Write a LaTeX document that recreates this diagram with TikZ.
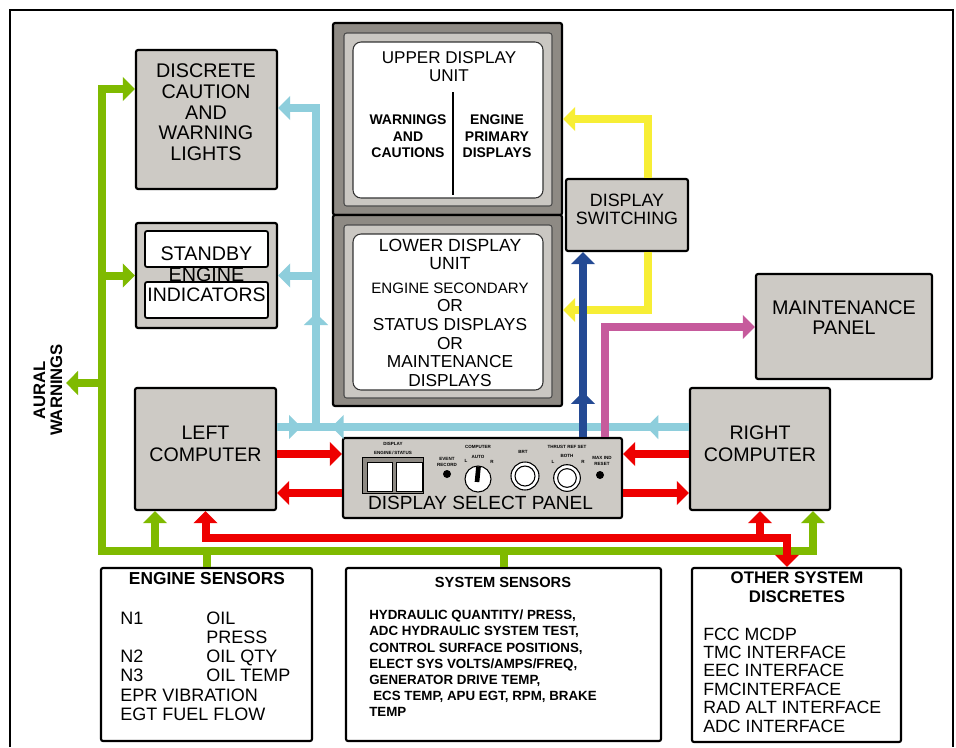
\documentclass[tikz,border=0pt]{standalone}
\usepackage{fontspec}
\setmainfont{Liberation Sans}
\usetikzlibrary{arrows.meta,decorations.markings}

\definecolor{boxgray}{HTML}{CDCAC5}
\definecolor{dispgray}{HTML}{8E8A84}
\definecolor{framegray}{HTML}{CAC7C2}
\definecolor{busgreen}{HTML}{7FBA00}
\definecolor{busred}{HTML}{EE0000}
\definecolor{buslblue}{HTML}{8ECEDC}
\definecolor{busdblue}{HTML}{244A94}
\definecolor{busyellow}{HTML}{F7EE35}
\definecolor{busmagenta}{HTML}{C65A9C}

\newcommand{\fsz}[2]{\fontsize{#1}{#2}\selectfont}

\begin{document}
\begin{tikzpicture}[x=0.75pt, y=-0.75pt,
    tipa/.tip={Triangle[length=9pt,width=17.5pt]},
    >=tipa,
    box/.style={draw, line width=1.6pt, fill=boxgray, rounded corners=1.5pt, inner sep=0pt},
    sensorbox/.style={draw, line width=1.6pt, fill=white, rounded corners=1.5pt, inner sep=0pt},
    unitbox/.style={draw, line width=1.6pt, fill=dispgray, rounded corners=1.5pt, inner sep=0pt},
    unitframe/.style={draw=black!70, line width=0.8pt, fill=framegray, rounded corners=2pt, inner sep=0pt},
    unitscreen/.style={draw=black!80, line width=0.8pt, fill=white, rounded corners=6pt, inner sep=0pt},
    lbl/.style={align=center, inner sep=0pt, font=\fsz{14.8}{15.5}},
    paneltext/.style={align=center, inner sep=0pt, font=\fsz{3.4}{3.9}\bfseries},
    wire/.style={line width=6pt},
    gline/.style={wire, color=busgreen},
    rline/.style={wire, color=busred},
    bline/.style={wire, color=buslblue},
    dbline/.style={wire, color=busdblue},
    yline/.style={wire, color=busyellow},
    mline/.style={wire, color=busmagenta},
    midtip/.style={postaction={decorate, decoration={markings, mark=at position #1 with {\arrow{tipa}}}}},
    midtips/.style 2 args={postaction={decorate, decoration={markings,
        mark=at position #1 with {\arrow{tipa}}, mark=at position #2 with {\arrow{tipa}}}}}
]
    \useasboundingbox (0,0) rectangle (956,747);
    \fill[white] (0,0) rectangle (956,747);
    \draw[line width=2.2pt] (10,747) -- (10,10) -- (953,10) -- (953,747);

    % boxes
    \node[box, minimum width=105.75pt, minimum height=104.25pt] (dcwl) at (206.5,119.5) {};
    \node[lbl] (dcwltext) at (206,112.5) {DISCRETE\\CAUTION\\AND\\WARNING\\LIGHTS};

    \node[box, minimum width=105.75pt, minimum height=78.75pt] (sbei) at (206.5,275.5) {};
    \node[lbl] (sbeimid) at (206.5,275) {ENGINE};
    \node[sensorbox, line width=1.3pt, minimum width=92.25pt, minimum height=27pt] (sbeitop) at (206.5,249) {};
    \node[sensorbox, line width=1.3pt, minimum width=92.25pt, minimum height=27pt] (sbeibot) at (206.5,300) {};
    \node[lbl] (sbeitoptext) at (206.5,254) {STANDBY};
    \node[lbl, font=\fsz{14.6}{15}] (sbeibottext) at (206.5,295) {INDICATORS};

    \node[box, minimum width=105.75pt, minimum height=91.5pt] (lc) at (205.5,449) {};
    \node[lbl, font=\fsz{14.7}{16.5}] (lctext) at (205.5,444) {LEFT\\COMPUTER};

    \node[box, minimum width=105pt, minimum height=91.5pt] (rc) at (760,449) {};
    \node[lbl, font=\fsz{14.7}{16.5}] (rctext) at (760,444) {RIGHT\\COMPUTER};

    \node[box, minimum width=91.5pt, minimum height=54pt] (dsw) at (627,215) {};
    \node[lbl, font=\fsz{13.4}{13.5}] (dswtext) at (627,209) {DISPLAY\\SWITCHING};

    \node[box, minimum width=132pt, minimum height=78.75pt] (mp) at (844,326.5) {};
    \node[lbl, font=\fsz{14.8}{15}] (mptext) at (844,318) {MAINTENANCE\\PANEL};

    % display units
    \node[unitbox, minimum width=171.75pt, minimum height=144pt] (udu) at (447.5,119) {};
    \node[unitframe, minimum width=156pt, minimum height=129.75pt] (uduframe) at (448,119.5) {};
    \node[unitscreen, minimum width=142.5pt, minimum height=117pt] (uduscreen) at (448,120) {};
    \node[lbl, font=\fsz{12.8}{13.5}] (udutitle) at (449,67) {UPPER DISPLAY\\UNIT};
    \draw[line width=0.8pt] (453,92) -- (453,195);
    \node[lbl, font=\fsz{10.5}{12.4}\bfseries] (uduleft) at (408,136.5) {WARNINGS\\AND\\CAUTIONS};
    \node[lbl, font=\fsz{10.5}{12.4}\bfseries] (uduright) at (497,136.5) {ENGINE\\PRIMARY\\DISPLAYS};

    \node[unitbox, minimum width=171.75pt, minimum height=143.25pt] (ldu) at (447.5,310.5) {};
    \node[unitframe, minimum width=156pt, minimum height=129.75pt] (lduframe) at (448,311.5) {};
    \node[unitscreen, minimum width=142.5pt, minimum height=117pt] (lduscreen) at (448,312) {};
    \node[lbl, font=\fsz{13.2}{13.5}] (ldutitle) at (450,254) {LOWER DISPLAY\\UNIT};
    \node[lbl, font=\fsz{13}{14}] (ldubody) at (450,334.5)
        {{\fsz{11.3}{14}ENGINE SECONDARY}\\OR\\STATUS DISPLAYS\\OR\\MAINTENANCE\\DISPLAYS};

    % display select panel
    \node[box, minimum width=209.25pt, minimum height=60pt] (dsp) at (482.5,478) {};
    \node[lbl, font=\fsz{14.3}{15}] (dsptext) at (480.5,503) {DISPLAY SELECT PANEL};
    \node[draw, line width=0.6pt, fill=dispgray, inner sep=0pt, minimum width=45.75pt, minimum height=27pt] (dspkeys) at (392.5,475) {};
    \node[draw, line width=0.6pt, fill=white, inner sep=0pt, minimum width=18.75pt, minimum height=21.75pt] (dspeng) at (379.5,476.5) {};
    \node[draw, line width=0.6pt, fill=white, inner sep=0pt, minimum width=19.5pt, minimum height=21.75pt] (dspstat) at (409,476.5) {};
    \node[paneltext] (dspdisp) at (393,444) {DISPLAY};
    \node[paneltext] (dspsel) at (393,453) {ENGINE\,/\,STATUS};
    \node[paneltext] (dspevent) at (447,462) {EVENT\\RECORD};
    \node[paneltext] (dspcomp) at (478,447) {COMPUTER};
    \node[paneltext] (dspauto) at (478,457) {AUTO};
    \node[paneltext] (dspcl) at (466,461) {L};
    \node[paneltext] (dspcr) at (492,462) {R};
    \node[paneltext] (dspbrt) at (523,452) {BRT};
    \node[paneltext] (dspthr) at (567,447) {THRUST REF SET};
    \node[paneltext] (dspboth) at (567,456) {BOTH};
    \node[paneltext] (dsptl) at (553,462) {L};
    \node[paneltext] (dsptr) at (583,462) {R};
    \node[paneltext] (dspmax) at (602,461) {MAX IND\\RESET};
    \fill (447,474) circle[radius=3pt];
    \fill (600,475) circle[radius=3pt];
    \draw[line width=0.8pt, fill=white] (478,479) circle[radius=9.75pt];
    \draw[line width=3.5pt] (478.5,466.5) -- (477,482);
    \draw[line width=0.8pt, fill=white] (525,476) circle[radius=10.5pt];
    \draw[line width=0.8pt] (525,476) circle[radius=7.5pt];
    \draw[line width=0.8pt, fill=white] (567,478) circle[radius=10pt];
    \draw[line width=0.8pt] (567,478) circle[radius=7pt];

    % sensor boxes
    \node[sensorbox, minimum width=158.25pt, minimum height=129.75pt] (es) at (206.5,654.5) {};
    \node[inner sep=0pt, font=\fsz{13}{14}\bfseries] (eshead) at (207,579) {ENGINE SENSORS};
    \node[inner sep=0pt, align=left, anchor=west, font=\fsz{13.5}{14.4}] (eslist) at (120,666)
        {\makebox[64.5pt][l]{N1}OIL\\\makebox[64.5pt][l]{}PRESS\\\makebox[64.5pt][l]{N2}OIL QTY\\
         \makebox[64.5pt][l]{N3}OIL TEMP\\EPR VIBRATION\\EGT FUEL FLOW};

    \node[sensorbox, minimum width=236.25pt, minimum height=129.75pt] (ss) at (503.5,654.5) {};
    \node[inner sep=0pt, font=\fsz{11}{12}\bfseries] (sshead) at (503,582) {SYSTEM SENSORS};
    \node[inner sep=0pt, align=left, anchor=west, font=\fsz{10}{12.15}\bfseries] (sslist) at (369,663.5)
        {HYDRAULIC QUANTITY/ PRESS,\\ADC HYDRAULIC SYSTEM TEST,\\CONTROL SURFACE POSITIONS,\\
         ELECT SYS VOLTS/AMPS/FREQ,\\GENERATOR DRIVE TEMP,\\\hspace*{3pt}ECS TEMP, APU EGT, RPM, BRAKE\\TEMP};

    \node[sensorbox, minimum width=156.75pt, minimum height=130.5pt] (osd) at (796.5,655) {};
    \node[inner sep=0pt, align=center, font=\fsz{12.6}{14.3}\bfseries] (osdhead) at (797,587.5) {OTHER SYSTEM\\DISCRETES};
    \node[inner sep=0pt, align=left, anchor=west, font=\fsz{13.3}{13.8}] (osdlist) at (703,680)
        {FCC MCDP\\TMC INTERFACE\\EEC INTERFACE\\FMCINTERFACE\\RAD ALT INTERFACE\\ADC INTERFACE};

    \node[inner sep=0pt, align=center, rotate=90, font=\fsz{12.5}{12.75}\bfseries] (aurtext) at (48,390) {AURAL\\WARNINGS};

    % wire corners
    \coordinate (gtop) at (102,89);
    \coordinate (gbl) at (102,551);
    \coordinate (gbr) at (813,551);
    \coordinate (glc) at (155,551);
    \coordinate (aural) at (66,383);
    \coordinate (rbr) at (787,538);
    \coordinate (r1) at (0,454);
    \coordinate (r2) at (0,493);
    \coordinate (bj) at (316,427);
    \coordinate (btop) at (316,108);
    \coordinate (dbx) at (583,0);
    \coordinate (ytop) at (648,119);
    \coordinate (ybot) at (648,310);
    \coordinate (mg) at (605,327);

    % green bus
    \draw[gline, <->] (gtop -| dcwl.west) -- (gtop) -- (gbl) -- (gbr) -- (gbr |- rc.south);
    \draw[gline, ->] (gbl |- sbei.west) -- (sbei.west);
    \draw[gline, ->] (gbl |- aural) -- (aural);
    \draw[gline, ->] (glc) -- (glc |- lc.south);
    \draw[gline] (es.north) -- (es.north |- gbl);
    \draw[gline] (ss.north) -- (ss.north |- gbl);

    % red bus
    \draw[rline, <->] (lc.south) -- (lc.south |- rbr) -- (rbr) -- (rbr |- osd.north);
    \draw[rline, ->] (rc.south |- rbr) -- (rc.south);
    \draw[rline, ->] (lc.east |- r1) -- (dsp.west |- r1);
    \draw[rline, <-] (lc.east |- r2) -- (dsp.west |- r2);
    \draw[rline, <-] (dsp.east |- r1) -- (rc.west |- r1);
    \draw[rline, ->] (dsp.east |- r2) -- (rc.west |- r2);

    % light blue
    \draw[bline, ->, midtip=85.5pt] (bj) -- (btop) -- (btop -| dcwl.east);
    \draw[bline, ->] (bj |- sbei.east) -- (sbei.east);
    \draw[bline, midtip=18pt] (lc.east |- bj) -- (bj);
    \draw[bline, midtips={32pt}{268pt}] (rc.west |- bj) -- (bj);

    % yellow
    \draw[yline, ->] (dsw.north -| ytop) -- (ytop) -- (ytop -| udu.east);
    \draw[yline, ->] (dsw.south -| ybot) -- (ybot) -- (ybot -| ldu.east);

    % dark blue and magenta
    \draw[dbline, ->, midtip=33.75pt] (dsp.north -| dbx) -- (dsw.south -| dbx);
    \draw[mline, ->] (dsp.north -| mg) -- (mg) -- (mg -| mp.west);
\end{tikzpicture}
\end{document}
